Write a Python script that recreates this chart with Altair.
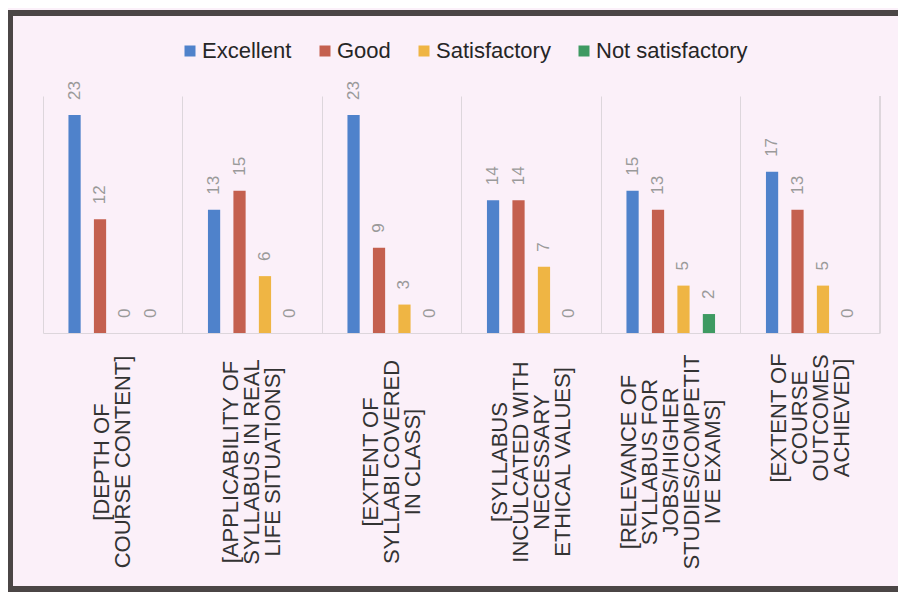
import altair as alt
import pandas as pd

# ---- data ----
categories = [
    "[DEPTH OF\nCOURSE CONTENT]",
    "[APPLICABILITY OF\nSYLLABUS IN REAL\nLIFE SITUATIONS]",
    "[EXTENT OF\nSYLLABI COVERED\nIN CLASS]",
    "[SYLLABUS\nINCULCATED WITH\nNECESSARY\nETHICAL VALUES]",
    "[RELEVANCE OF\nSYLLABUS FOR\nJOBS/HIGHER\nSTUDIES/COMPETIT\nIVE EXAMS]",
    "[EXTENT OF\nCOURSE\nOUTCOMES\nACHIEVED]",
]
series = ["Excellent", "Good", "Satisfactory", "Not satisfactory"]
excellent = [23, 13, 23, 14, 15, 17]
good = [12, 15, 9, 14, 13, 13]
satisfactory = [0, 6, 3, 7, 5, 5]
not_satisfactory = [0, 0, 0, 0, 2, 0]
colors = ["#4f82cb", "#c4604f", "#efb544", "#3e9a62"]

values_by_series = [excellent, good, satisfactory, not_satisfactory]
rows = []
for s, vals in zip(series, values_by_series):
    for c, v in zip(categories, vals):
        rows.append({"cat": c, "series": s, "value": v})
df = pd.DataFrame(rows)
lab_df = pd.DataFrame({"cat": categories, "idx": list(range(len(categories)))})

W, H = 837, 237
BG = "#fbf0f9"
GRID = "#ddd6dc"
FRAME = "#4b4646"
FONT = "Liberation Sans"
LH = 21

x_enc = alt.X(
    "cat:N",
    sort=categories,
    scale=alt.Scale(paddingInner=0, paddingOuter=0),
    axis=alt.Axis(
        title=None, labels=False, ticks=False, domain=True, domainColor=GRID,
        grid=True, gridColor=GRID, gridWidth=1, bandPosition=0,
    ),
)
xoff = alt.XOffset("series:N", sort=series,
                   scale=alt.Scale(paddingInner=0.52, paddingOuter=1))
y_enc = alt.Y("value:Q", scale=alt.Scale(domain=[0, 25]), axis=None)

bars = alt.Chart(df).mark_bar().encode(
    x=x_enc,
    xOffset=xoff,
    y=y_enc,
    color=alt.Color(
        "series:N", sort=series,
        scale=alt.Scale(domain=series, range=colors),
        legend=alt.Legend(
            title=None, orient="none", legendX=136, legendY=-56,
            direction="horizontal", symbolType="square", symbolSize=121,
            symbolStrokeWidth=0, labelFontSize=22, labelFont=FONT,
            labelColor="#262626", columnPadding=22, labelOffset=1, padding=0,
        ),
    ),
)

vals = alt.Chart(df).mark_text(
    angle=270, align="left", baseline="middle", dx=15,
    fontSize=17, font=FONT, color="#9a9a9a",
).encode(x=x_enc, xOffset=xoff, y=y_enc, text=alt.Text("value:Q"))

label_layers = []
for i, cat in enumerate(categories):
    n_lines = cat.count("\n") + 1
    label_layers.append(
        alt.Chart(lab_df).transform_filter(f"datum.idx == {i}").mark_text(
            angle=270, align="center", baseline="middle", lineBreak="\n",
            fontSize=22, lineHeight=LH, font=FONT, color="#333333",
            dx=-129 if i < 5 else -85, dy=-(n_lines - 1) * LH / 2,
        ).encode(x=x_enc, y=alt.value(H), text=alt.Text("cat:N"))
    )

right_line = alt.Chart(lab_df).mark_rule(color=GRID, strokeWidth=1).encode(
    x=alt.value(W), y=alt.value(0), y2=alt.value(H)
)

# dark frame around the chart (left, top, bottom edges)
frame_left = alt.Chart(lab_df).mark_rule(color=FRAME, strokeWidth=5.5).encode(
    x=alt.value(-33), y=alt.value(-85.7), y2=alt.value(495.7)
)
frame_top = alt.Chart(lab_df).mark_rule(color=FRAME, strokeWidth=5.5).encode(
    x=alt.value(-35.7), x2=alt.value(870), y=alt.value(-83)
)
frame_bottom = alt.Chart(lab_df).mark_rule(color=FRAME, strokeWidth=5.5).encode(
    x=alt.value(-35.7), x2=alt.value(870), y=alt.value(493)
)

chart = alt.layer(
    bars, vals, *label_layers, right_line, frame_left, frame_top, frame_bottom
).properties(
    width=W, height=H, background=BG,
    padding={"left": 35, "top": 88, "right": 18, "bottom": 259},
    autosize=alt.AutoSizeParams(type="none"),
).configure_view(stroke=None)

chart.save("out.html", embed_options={"renderer": "svg", "actions": False})
